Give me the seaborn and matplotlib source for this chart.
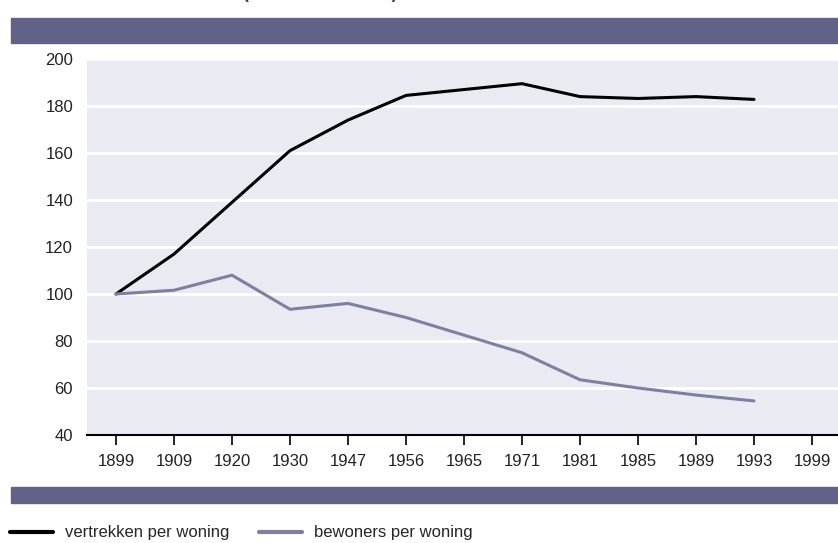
import matplotlib
matplotlib.use("Agg")
import matplotlib.pyplot as plt
import matplotlib.patches as mpatches
import pandas as pd
import seaborn as sns

# data (index, 1899 = 100)
years = ["1899", "1909", "1920", "1930", "1947", "1956", "1965",
         "1971", "1981", "1985", "1989", "1993", "1999"]
vertrekken = [100, 117, 139, 161, 174, 184.5, 187, 189.5, 184, 183.2, 184, 182.8]
bewoners = [100, 101.6, 108, 93.5, 96, 90, 82.5, 75, 63.5, 60, 57, 54.5]
series_names = ["vertrekken per woning", "bewoners per woning"]
yticks = [40, 60, 80, 100, 120, 140, 160, 180, 200]

band_color = "#626289"
line_colors = ["#000000", "#7f7fa3"]

sns.set_style("darkgrid")
plt.rcParams["font.family"] = ["Liberation Sans", "DejaVu Sans"]

n = len(vertrekken)
df = pd.DataFrame({
    "pos": list(range(n)) * 2,
    "waarde": vertrekken + bewoners,
    "reeks": [series_names[0]] * n + [series_names[1]] * n,
})

fig = plt.figure(figsize=(8.38, 5.43), dpi=100)
ax = fig.add_axes([87 / 838, 1 - 435 / 543, 1 - 87 / 838, (435 - 59) / 543])
sns.lineplot(data=df, x="pos", y="waarde", hue="reeks", palette=line_colors,
             linewidth=2.2, legend=False, ax=ax)

ax.set_xlim(-0.5, (838 - 116) / 58)
ax.set_ylim(40, 200)
ax.set_yticks(yticks)
ax.set_xticks(range(len(years)))
ax.set_xticklabels(years, fontsize=12)
ax.tick_params(axis="y", labelsize=12, pad=10, length=0, labelcolor="#222222")
ax.tick_params(axis="x", length=7, width=1.2, color="black", pad=7, bottom=True,
               labelcolor="#222222")
ax.grid(axis="x", visible=False)
ax.grid(axis="y", color="white", linewidth=2)
ax.set_xlabel("")
ax.set_ylabel("")
for side in ["left", "right", "top"]:
    ax.spines[side].set_visible(False)
ax.spines["bottom"].set_visible(True)
ax.spines["bottom"].set_color("black")
ax.spines["bottom"].set_linewidth(1.5)

# decorative bands
fig.patches.append(mpatches.Rectangle((11 / 838, 1 - 43 / 543), 1, 25 / 543,
                                      transform=fig.transFigure, color=band_color, zorder=0))
fig.patches.append(mpatches.Rectangle((11 / 838, 1 - 503 / 543), 1, 16 / 543,
                                      transform=fig.transFigure, color=band_color, zorder=0))

# title, cut off at the top like the reference
fig.text(0.382, 1.003, "(index 1899 = 100)", ha="center", va="baseline",
         fontsize=13, fontweight="bold", color="#3a3a6a")

handles = ax.get_lines()[:2]
fig.legend(handles, series_names, loc="center left",
           bbox_to_anchor=(10 / 838, 1 - 533 / 543),
           ncol=2, frameon=False, prop={"size": 12},
           handlelength=2.6, handletextpad=0.7, columnspacing=1.75, borderaxespad=0,
           borderpad=0)
for lh in fig.legends[0].get_lines():
    lh.set_linewidth(3)

fig.savefig("out.png", dpi=100)
